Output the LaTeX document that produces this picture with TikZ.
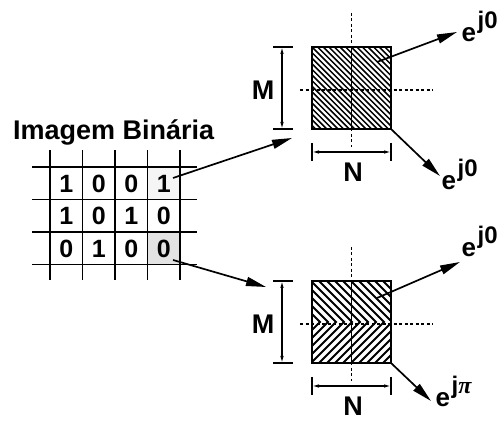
\documentclass[tikz,border=0pt]{standalone}
\usepackage{fontspec}
\setmainfont{Liberation Sans}
\newfontfamily\pifont{Liberation Serif}
\usetikzlibrary{arrows.meta,calc}
\newcommand{\ephase}[1]{e\kern1.5pt\raisebox{13pt}{\fontsize{24}{24}\selectfont #1}}
\begin{document}
\begin{tikzpicture}[x=1pt,y=1pt,
  big/.style={font=\bfseries\fontsize{27}{27}\selectfont, inner sep=0pt},
  digit/.style={font=\bfseries\fontsize{25}{25}\selectfont, minimum width=32.5pt, minimum height=32.5pt, inner sep=0pt},
  gridline/.style={line width=1.3pt},
  axis/.style={line width=1.5pt, dash pattern=on 3pt off 2.5pt},
  block/.style={draw, line width=2pt, minimum width=79pt, minimum height=82pt, inner sep=0pt, outer sep=0pt},
  hatch/.style={line width=1.5pt},
  chevron/.style={line width=1.8pt, line join=miter},
  arr/.style={line width=1.7pt, -{Triangle[length=20pt,width=9pt]}},
  dim/.style={line width=1.2pt, {Latex[length=7pt,width=3.5pt]}-{Latex[length=7pt,width=3.5pt]}},
  tick/.style={line width=1.2pt},
  phase/.style={font=\bfseries\fontsize{26}{26}\selectfont, anchor=base west, inner sep=0pt}
]
\useasboundingbox (0,0) rectangle (504,422);

% ---- binary image ----
\node[big, anchor=base west] (title) at (13,282) {Imagem Binária};

\node[digit] (c11) at (66.25,238.5) {1};
\node[digit] (c12) at (98.75,238.5) {0};
\node[digit] (c13) at (131.25,238.5) {0};
\node[digit, fill=gray!8] (c14) at (163.75,238.5) {1};
\node[digit] (c21) at (66.25,206) {1};
\node[digit] (c22) at (98.75,206) {0};
\node[digit] (c23) at (131.25,206) {1};
\node[digit] (c24) at (163.75,206) {0};
\node[digit] (c31) at (66.25,173.5) {0};
\node[digit] (c32) at (98.75,173.5) {1};
\node[digit] (c33) at (131.25,173.5) {0};
\node[digit, fill=gray!22] (c34) at (163.75,173.5) {0};

\foreach \yy in {255,222.5,190,157.5}
  \draw[gridline] (32,\yy) -- (197,\yy);
\foreach \xx in {50,82.5,115,147.5,180}
  \draw[gridline] (\xx,142) -- (\xx,272);

% ---- upper block: uniform hatching ----
\node[block] (blkA) at (351.5,334) {};
\begin{scope}
  \clip (blkA.south west) rectangle (blkA.north east);
  \foreach \i in {-16,...,16}
    \draw[hatch] ($(blkA.north west)+(\i*5.6,0)$) -- ++(90,-90);
\end{scope}
\draw[axis] ($(blkA.center)+(0,75)$) -- ($(blkA.center)+(0,-59)$);
\draw[line width=1pt] (blkA.north) -- (blkA.south);
\draw[axis] ($(blkA.center)+(-51.5,-2)$) -- ($(blkA.center)+(81.5,-2)$);
\node[block] at (blkA.center) {};

% dimensions of the upper block
\draw[dim] ($(blkA.north west)+(-30,0)$) -- ($(blkA.south west)+(-30,0)$);
\draw[tick] ($(blkA.north west)+(-39,0)$) -- ++(20,0);
\draw[tick] ($(blkA.south west)+(-39,0)$) -- ++(20,0);
\node[big] (mA) at (263,332) {M};
\draw[dim] ($(blkA.south west)+(0,-23)$) -- ($(blkA.south east)+(0,-23)$);
\draw[tick] ($(blkA.south west)+(0,-14)$) -- ++(0,-18);
\draw[tick] ($(blkA.south east)+(0,-14)$) -- ++(0,-18);
\node[big] (nA) at (353,249.5) {N};

% outputs of the upper block
\coordinate (oA1) at (457,390);
\coordinate (oA2) at (440,246);
\draw[arr] ($(blkA.center)+(25.5,26)$) -- (oA1);
\draw[arr] (blkA.south east) -- (oA2);
\node[phase] (pA1) at (461.5,380) {\ephase{j0}};
\node[phase] (pA2) at (441.5,232) {\ephase{j0}};

% ---- lower block: chevron hatching ----
\node[block] (blkB) at (351.5,100) {};
\begin{scope}
  \clip (blkB.south west) rectangle (blkB.north east);
  \foreach \i in {-1,...,18}
    \draw[chevron] ($(blkB.west)+(\i*8,0)+(-50,50)$) -- ($(blkB.west)+(\i*8,0)$) -- ++(-50,-50);
\end{scope}
\draw[axis] ($(blkB.center)+(0,75)$) -- ($(blkB.center)+(0,-59)$);
\draw[line width=1pt] (blkB.north) -- (blkB.south);
\draw[axis] ($(blkB.center)+(-51.5,-2)$) -- ($(blkB.center)+(81.5,-2)$);
\node[block] at (blkB.center) {};

% dimensions of the lower block
\draw[dim] ($(blkB.north west)+(-30,0)$) -- ($(blkB.south west)+(-30,0)$);
\draw[tick] ($(blkB.north west)+(-39,0)$) -- ++(20,0);
\draw[tick] ($(blkB.south west)+(-39,0)$) -- ++(20,0);
\node[big] (mB) at (263,98) {M};
\draw[dim] ($(blkB.south west)+(0,-23)$) -- ($(blkB.south east)+(0,-23)$);
\draw[tick] ($(blkB.south west)+(0,-14)$) -- ++(0,-18);
\draw[tick] ($(blkB.south east)+(0,-14)$) -- ++(0,-18);
\node[big] (nB) at (353,15.5) {N};

% outputs of the lower block
\coordinate (oB1) at (460,160);
\coordinate (oB2) at (431,21);
\draw[arr] ($(blkB.center)+(25.5,24)$) -- (oB1);
\draw[arr] (blkB.south east) -- (oB2);
\node[phase] (pB1) at (461.5,165) {\ephase{j0}};
\node[phase] (pB2) at (435.5,15) {\ephase{j{\pifont\itshape π}}};

% ---- pixels feeding the blocks ----
\coordinate (inA) at (292,284);
\coordinate (inB) at (266,135);
\draw[arr] ($(c14.center)+(9.25,5.5)$) -- (inA);
\draw[arr] ($(c34.center)+(9.25,-11.5)$) -- (inB);
\end{tikzpicture}
\end{document}
